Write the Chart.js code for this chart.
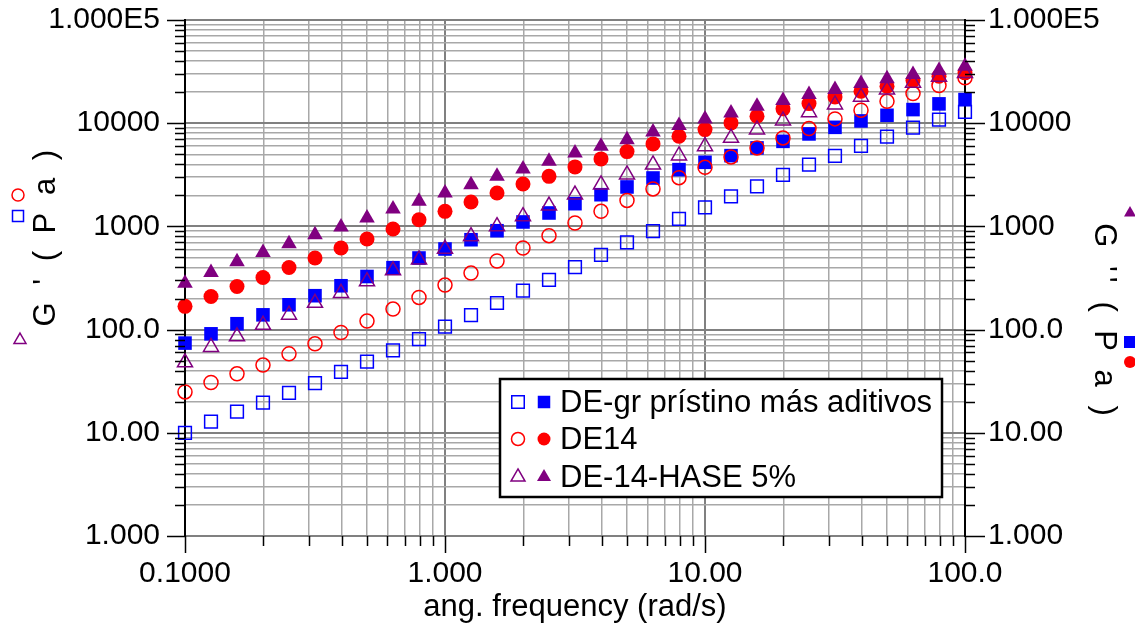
<!DOCTYPE html>
<html><head><meta charset="utf-8">
<script src="https://cdn.jsdelivr.net/npm/chart.js@4/dist/chart.umd.min.js"></script>
<style>html,body{margin:0;padding:0;background:#fff;}#wrap{width:1135px;height:627px;}</style>
</head><body><div id="wrap"><canvas id="c" width="1135" height="627"></canvas></div>
<script>
// ---- data ----
const freq = [0.1, 0.1259, 0.1585, 0.1995, 0.2512, 0.3162, 0.3981, 0.5012, 0.631, 0.7943,
  1, 1.259, 1.585, 1.995, 2.512, 3.162, 3.981, 5.012, 6.31, 7.943,
  10, 12.59, 15.85, 19.95, 25.12, 31.62, 39.81, 50.12, 63.1, 79.43, 100];
const gpDEgr = [10.0, 12.8, 16.0, 19.6, 24.4, 30.3, 39, 49, 63, 81, 107, 138, 181, 238, 304, 404, 531, 700, 902, 1180, 1528, 1953, 2443, 3150, 3965, 4820, 6030, 7420, 9060, 10840, 12870];
const gppDEgr = [74, 91, 114, 139, 174, 213, 266, 327, 398, 494, 604, 743, 908, 1104, 1349, 1660, 2028, 2411, 2945, 3548, 4180, 4850, 5760, 6670, 7870, 9120, 10520, 11930, 13550, 15390, 16940];
const gpDE14 = [24.9, 30.7, 37.3, 45.3, 58.2, 72.8, 93.7, 121, 158, 205, 270, 353, 462, 617, 813, 1079, 1399, 1786, 2307, 2966, 3735, 4710, 5760, 7200, 8870, 11010, 13340, 16300, 19360, 23160, 27500];
const gppDE14 = [168, 209, 262, 320, 400, 494, 617, 755, 944, 1161, 1399, 1726, 2109, 2577, 3055, 3770, 4508, 5306, 6300, 7470, 8670, 10070, 11670, 13770, 15490, 17990, 20400, 22790, 25880, 28500, 30740];
const gpHASE = [48, 67.6, 85.7, 111, 139, 181, 226, 293, 374, 476, 604, 800, 1000, 1250, 1585, 2028, 2537, 3172, 3965, 4850, 5970, 7200, 8670, 10600, 12760, 15150, 17990, 21180, 24600, 28120, 30500];
const gppHASE = [282, 358, 455, 560, 679, 830, 986, 1206, 1475, 1750, 2109, 2537, 3055, 3606, 4273, 5150, 5970, 6930, 8230, 9480, 11010, 12590, 14590, 16570, 18920, 21180, 24230, 26900, 29590, 32370, 35660];
const seriesNames = ['DE-gr prístino más aditivos', 'DE14', 'DE-14-HASE 5%'];
const yMajor = [1, 10, 100, 1000, 10000, 100000];
const yLabels = ['1.000', '10.00', '100.0', '1000', '10000', '1.000E5'];
const xMajor = [0.1, 1, 10, 100];
const xLabels = ['0.1000', '1.000', '10.00', '100.0'];
const xTitle = 'ang. frequency (rad/s)';
const yTitleLeft = "G ' ( P a )";
const yTitleRight = "G '' ( P a )";

// ---- styles ----
const BLUE = '#0000FF', RED = '#FF0000', PURPLE = '#800080';
const FONT = "'Liberation Sans', Arial, sans-serif";

function logTicks(min, max) {
  const out = [];
  for (let e = Math.round(Math.log10(min)); e <= Math.round(Math.log10(max)); e++) {
    for (let m = 1; m <= 9; m++) {
      const v = +(m * Math.pow(10, e)).toPrecision(6);
      if (v >= min * 0.999 && v <= max * 1.001) out.push(v);
    }
  }
  return out;
}
function isMajor(v, majors) { return majors.some(m => Math.abs(v / m - 1) < 1e-6); }
function labelFor(v, majors, labels) {
  const i = majors.findIndex(m => Math.abs(v / m - 1) < 1e-6);
  return i >= 0 ? labels[i] : '';
}
function pts(ys) { return freq.map((f, i) => ({ x: f, y: ys[i] })); }

function marker(ctx, type, x, y, size, color, filled) {
  ctx.save();
  ctx.beginPath();
  if (type === 'rect') {
    ctx.rect(x - size / 2, y - size / 2, size, size);
  } else if (type === 'circle') {
    ctx.arc(x, y, size / 2, 0, Math.PI * 2);
  } else {
    const r = size / Math.sqrt(3);
    ctx.moveTo(x, y - r);
    ctx.lineTo(x + size / 2, y + r / 2);
    ctx.lineTo(x - size / 2, y + r / 2);
    ctx.closePath();
  }
  if (filled) { ctx.fillStyle = color; ctx.fill(); }
  else { ctx.strokeStyle = color; ctx.lineWidth = 1.5; ctx.stroke(); }
  ctx.restore();
}

const decor = {
  id: 'decor',
  afterDraw(chart) {
    const ctx = chart.ctx;
    const ca = chart.chartArea;
    const sx = chart.scales.x, sy = chart.scales.y;
    ctx.save();
    // tick marks
    ctx.strokeStyle = '#000';
    ctx.lineWidth = 1.5;
    ctx.beginPath();
    logTicks(1, 100000).forEach(v => {
      const p = Math.round(sy.getPixelForValue(v)) + 0.5;
      const maj = isMajor(v, yMajor);
      ctx.moveTo(ca.left - (maj ? 18 : 10), p); ctx.lineTo(ca.left, p);
      ctx.moveTo(ca.right, p); ctx.lineTo(ca.right + (maj ? 20 : 10), p);
    });
    logTicks(0.1, 100).forEach(v => {
      const p = Math.round(sx.getPixelForValue(v)) + 0.5;
      const maj = isMajor(v, xMajor);
      ctx.moveTo(p, ca.bottom); ctx.lineTo(p, ca.bottom + (maj ? 17 : 10));
    });
    ctx.stroke();

    // x title
    ctx.fillStyle = '#000';
    ctx.font = '31px ' + FONT;
    ctx.textAlign = 'center';
    ctx.textBaseline = 'middle';
    ctx.fillText(xTitle, (ca.left + ca.right) / 2, 607);

    // left y title
    ctx.save();
    ctx.translate(46, 236);
    ctx.rotate(-Math.PI / 2);
    ctx.letterSpacing = '4.5px';
    ctx.fillText(yTitleLeft, 0, 0);
    ctx.restore();
    marker(ctx, 'triangle', 20, 340, 12, PURPLE, false);
    marker(ctx, 'rect', 18, 216, 11, BLUE, false);
    marker(ctx, 'circle', 18, 195, 12, RED, false);

    // right y title
    ctx.save();
    ctx.translate(1104, 322);
    ctx.rotate(Math.PI / 2);
    ctx.letterSpacing = '5px';
    ctx.fillText(yTitleRight, 0, 0);
    ctx.restore();
    marker(ctx, 'triangle', 1130, 213, 12, PURPLE, true);
    marker(ctx, 'rect', 1130, 342, 12, BLUE, true);
    marker(ctx, 'circle', 1130, 362, 12, RED, true);

    // legend
    ctx.fillStyle = '#fff';
    ctx.fillRect(500, 379, 442, 118);
    ctx.strokeStyle = '#000';
    ctx.lineWidth = 2.5;
    ctx.strokeRect(500, 379, 442, 118);
    const rows = [402, 439, 477];
    const types = ['rect', 'circle', 'triangle'];
    const cols = [BLUE, RED, PURPLE];
    rows.forEach((ry, i) => {
      const sz = types[i] === 'rect' ? 12.5 : (types[i] === 'circle' ? 13 : 14);
      marker(ctx, types[i], 518, ry, sz, cols[i], false);
      marker(ctx, types[i], 544, ry, sz, cols[i], true);
      ctx.fillStyle = '#000';
      ctx.font = '31px ' + FONT;
      ctx.textAlign = 'left';
      ctx.textBaseline = 'middle';
      ctx.fillText(seriesNames[i], 560, ry + 1);
    });
    ctx.restore();
  }
};

const gridOpts = (majors) => ({
  drawTicks: false,
  color: c => (c.tick && isMajor(c.tick.value, majors)) ? '#808080' : '#a8a8a8',
  lineWidth: c => (c.tick && isMajor(c.tick.value, majors)) ? 2 : 1.5
});

function ds(label, data, axis, style, r, color, filled) {
  return {
    label, data: pts(data), yAxisID: axis, pointStyle: style, pointRadius: r,
    pointHoverRadius: r, backgroundColor: filled ? color : 'rgba(0,0,0,0)',
    borderColor: color, borderWidth: filled ? 0 : 1.5, showLine: false, clip: false
  };
}

new Chart(document.getElementById('c'), {
  type: 'scatter',
  data: {
    datasets: [
      ds("G'' " + seriesNames[2], gppHASE, 'y2', 'triangle', 9, PURPLE, true),
      ds("G' " + seriesNames[2], gpHASE, 'y', 'triangle', 8.7, PURPLE, false),
      ds("G'' " + seriesNames[1], gppDE14, 'y2', 'circle', 7.5, RED, true),
      ds("G' " + seriesNames[1], gpDE14, 'y', 'circle', 7, RED, false),
      ds("G'' " + seriesNames[0], gppDEgr, 'y2', 'rect', 9.6, BLUE, true),
      ds("G' " + seriesNames[0], gpDEgr, 'y', 'rect', 9, BLUE, false)
    ]
  },
  options: {
    responsive: false,
    animation: false,
    devicePixelRatio: 1,
    layout: { padding: { top: 20, left: 0, right: 0, bottom: 0 } },
    plugins: { legend: { display: false }, tooltip: { enabled: false } },
    scales: {
      x: {
        type: 'logarithmic', position: 'bottom', min: 0.1, max: 100,
        afterBuildTicks: s => { s.ticks = logTicks(0.1, 100).map(v => ({ value: v })); },
        afterFit: s => { s.height = 91; s.paddingLeft = 0; s.paddingRight = 0; },
        ticks: {
          autoSkip: false, maxRotation: 0, minRotation: 0, padding: 20,
          color: '#000', font: { family: FONT, size: 30 },
          callback: v => labelFor(v, xMajor, xLabels)
        },
        grid: gridOpts(xMajor),
        border: { display: true, color: '#808080', width: 2 }
      },
      y: {
        type: 'logarithmic', position: 'left', min: 1, max: 100000,
        afterBuildTicks: s => { s.ticks = logTicks(1, 100000).map(v => ({ value: v })); },
        afterFit: s => { s.width = 185; s.paddingTop = 0; s.paddingBottom = 0; },
        ticks: {
          autoSkip: false, padding: 25, color: '#000', font: { family: FONT, size: 30 },
          callback: v => labelFor(v, yMajor, yLabels)
        },
        grid: gridOpts(yMajor),
        border: { display: true, color: '#000', width: 2 }
      },
      y2: {
        type: 'logarithmic', position: 'right', min: 1, max: 100000,
        afterBuildTicks: s => { s.ticks = logTicks(1, 100000).map(v => ({ value: v })); },
        afterFit: s => { s.width = 170; s.paddingTop = 0; s.paddingBottom = 0; },
        ticks: {
          autoSkip: false, padding: 23, color: '#000', font: { family: FONT, size: 30 },
          callback: v => labelFor(v, yMajor, yLabels)
        },
        grid: { display: true, drawOnChartArea: false, drawTicks: false },
        border: { display: true, color: '#000', width: 2 }
      }
    }
  },
  plugins: [decor]
});
</script>
</body></html>
